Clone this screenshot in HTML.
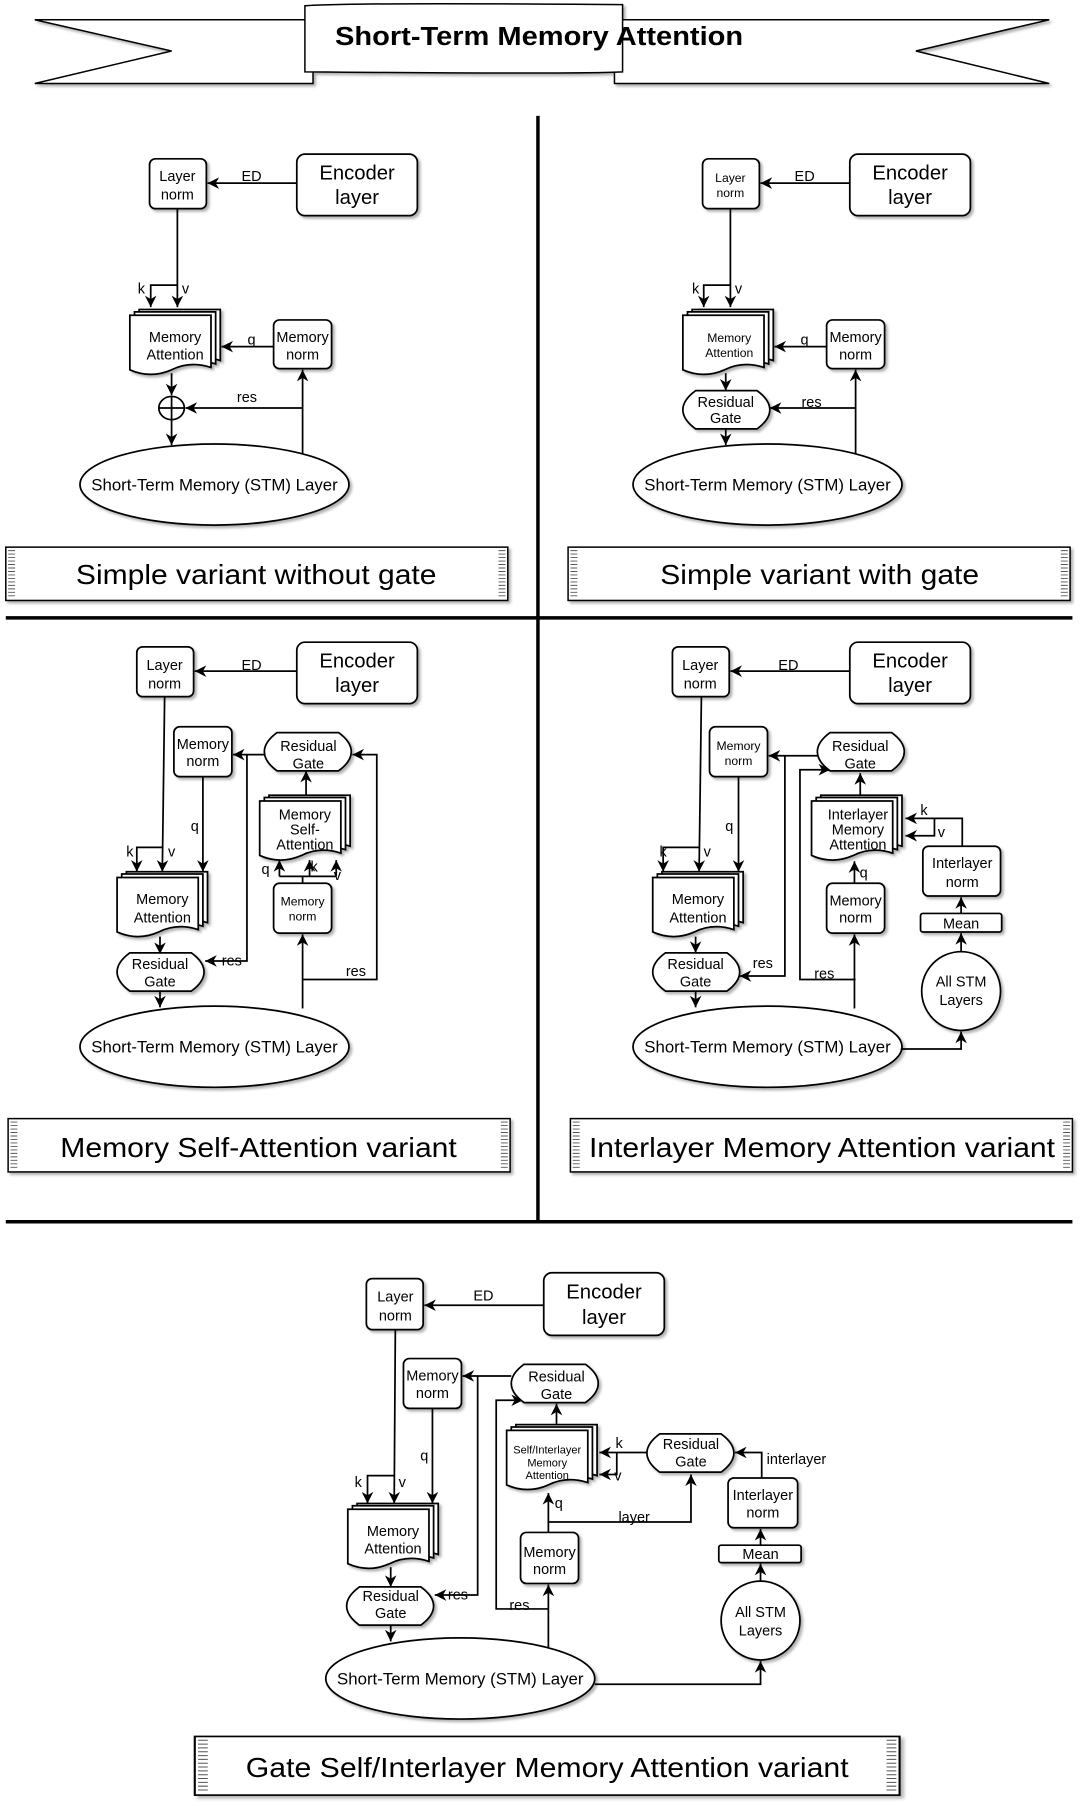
<!DOCTYPE html>
<html><head><meta charset="utf-8"><style>
html,body{margin:0;padding:0;background:#fff}
svg{display:block}
text{font-family:"Liberation Sans",Arial,sans-serif;fill:#000}
</style></head><body>
<svg width="1084" height="1806" viewBox="0 0 935 1558" preserveAspectRatio="none" xmlns="http://www.w3.org/2000/svg">
<defs>
<marker id="a" markerUnits="userSpaceOnUse" markerWidth="11" markerHeight="11" refX="10" refY="5" orient="auto"><path d="M0,0 L10,5 L0,10 L3,5 Z" fill="#000"/></marker>
<filter id="sh" x="-10%" y="-10%" width="130%" height="140%"><feDropShadow dx="2" dy="2" stdDeviation="1.2" flood-color="#000" flood-opacity="0.3"/></filter>
<g id="doc" filter="url(#sh)" stroke="#000" stroke-width="1.5" fill="#fff">
<path d="M8,0 H78 V44 Q60,38 44,46 Q26,54 8,46 Z"/>
<path d="M4,2 H74 V47 Q56,41 40,49 Q22,57 4,49 Z"/>
<path d="M0,5 H70 V50 Q52,44 36,52 Q18,60 0,52 Z"/>
</g>
<g id="gate" filter="url(#sh)"><path d="M11,0 H64 Q75,8 75,16.5 Q75,25 64,33 H11 Q0,25 0,16.5 Q0,8 11,0 Z" fill="#fff" stroke="#000" stroke-width="1.5"/></g>
<g id="cap"><rect x="0" y="0" width="433" height="46" fill="#fff" stroke="#000" stroke-width="1.3" filter="url(#sh)"/>
<path d="M2,3 H8 M2,6 H8 M2,9 H8 M2,12 H8 M2,15 H8 M2,18 H8 M2,21 H8 M2,24 H8 M2,27 H8 M2,30 H8 M2,33 H8 M2,36 H8 M2,39 H8 M2,42 H8 M425,3 H431 M425,6 H431 M425,9 H431 M425,12 H431 M425,15 H431 M425,18 H431 M425,21 H431 M425,24 H431 M425,27 H431 M425,30 H431 M425,33 H431 M425,36 H431 M425,39 H431 M425,42 H431" stroke="#555" stroke-width="0.8"/></g>
</defs>

<!-- Title banner -->
<g stroke="#000" stroke-width="1.3" fill="#fff" filter="url(#sh)">
<polygon points="30,17 270,17 270,72 30,72 148,44"/>
<polygon points="905,17 530,17 530,72 905,72 790,44"/>
<path d="M263,5 Q300,2 537,4 V62 Q500,64 263,62 Z"/>
</g>
<text x="465" y="39" font-size="22" font-weight="bold" text-anchor="middle" textLength="352" lengthAdjust="spacingAndGlyphs">Short-Term Memory Attention</text>

<!-- dividers -->
<g stroke="#000" stroke-width="3">
<line x1="464" y1="100" x2="464" y2="1054"/>
<line x1="5" y1="533" x2="925" y2="533"/>
<line x1="5" y1="1054" x2="925" y2="1054"/>
</g>

<g stroke="#000" stroke-width="1.5" fill="#fff">
<!-- ===== Panel 1 ===== -->
<rect x="129" y="137" width="49" height="43" rx="5" filter="url(#sh)"/>
<rect x="256" y="133" width="104" height="53" rx="7" filter="url(#sh)"/>
<rect x="236" y="276" width="50" height="42" rx="5" filter="url(#sh)"/>
<ellipse cx="185" cy="418" rx="116" ry="35" filter="url(#sh)"/>
<ellipse cx="148" cy="352" rx="11" ry="10"/>
<g fill="none">
<path d="M256,158 H179" marker-end="url(#a)"/>
<path d="M153,180 V265" marker-end="url(#a)"/>
<path d="M153,246 H130 V265" marker-end="url(#a)"/>
<path d="M236,299 H191" marker-end="url(#a)"/>
<path d="M148,322 V341" marker-end="url(#a)"/>
<path d="M148,362 V384" marker-end="url(#a)"/>
<path d="M261,392 V319" marker-end="url(#a)"/>
<path d="M261,352 H160" marker-end="url(#a)"/>
<path d="M137,352 H159 M148,342 V362"/>
</g>

<!-- ===== Panel 2 ===== -->
<rect x="606" y="137" width="49" height="43" rx="5" filter="url(#sh)"/>
<rect x="733" y="133" width="104" height="53" rx="7" filter="url(#sh)"/>
<rect x="713" y="276" width="50" height="42" rx="5" filter="url(#sh)"/>
<ellipse cx="662" cy="418" rx="116" ry="35" filter="url(#sh)"/>
<g fill="none">
<path d="M733,158 H656" marker-end="url(#a)"/>
<path d="M630,180 V265" marker-end="url(#a)"/>
<path d="M630,246 H607 V265" marker-end="url(#a)"/>
<path d="M713,299 H668" marker-end="url(#a)"/>
<path d="M626,322 V337" marker-end="url(#a)"/>
<path d="M626,370 V384" marker-end="url(#a)"/>
<path d="M738,392 V319" marker-end="url(#a)"/>
<path d="M738,352 H664" marker-end="url(#a)"/>
</g>

<!-- ===== Panel 3 ===== -->
<rect x="118" y="558" width="49" height="43" rx="5" filter="url(#sh)"/>
<rect x="256" y="554" width="104" height="53" rx="7" filter="url(#sh)"/>
<rect x="150" y="627" width="50" height="43" rx="5" filter="url(#sh)"/>
<rect x="236" y="762" width="50" height="43" rx="5" filter="url(#sh)"/>
<ellipse cx="185" cy="903" rx="116" ry="35" filter="url(#sh)"/>
<g fill="none">
<path d="M256,579 H168" marker-end="url(#a)"/>
<path d="M142,601 L140,752" marker-end="url(#a)"/>
<path d="M140,731 H118 V752" marker-end="url(#a)"/>
<path d="M175,670 V752" marker-end="url(#a)"/>
<path d="M138,808 V823" marker-end="url(#a)"/>
<path d="M138,855 V869" marker-end="url(#a)"/>
<path d="M228,651 H201" marker-end="url(#a)"/>
<path d="M213,651 V829 H177" marker-end="url(#a)"/>
<path d="M264,686 V665" marker-end="url(#a)"/>
<path d="M261,762 V756 M241,756 H290"/>
<path d="M241,756 V742" marker-end="url(#a)"/>
<path d="M267,756 V742" marker-end="url(#a)"/>
<path d="M290,756 V742" marker-end="url(#a)"/>
<path d="M261,870 V806" marker-end="url(#a)"/>
<path d="M261,845 H325 V651 H304" marker-end="url(#a)"/>
</g>

<!-- ===== Panel 4 ===== -->
<rect x="580" y="558" width="49" height="43" rx="5" filter="url(#sh)"/>
<rect x="733" y="554" width="104" height="53" rx="7" filter="url(#sh)"/>
<rect x="612" y="627" width="50" height="43" rx="5" filter="url(#sh)"/>
<rect x="713" y="762" width="50" height="43" rx="5" filter="url(#sh)"/>
<rect x="796" y="730" width="67" height="43" rx="5" filter="url(#sh)"/>
<rect x="794" y="788" width="70" height="16" rx="2" filter="url(#sh)"/>
<circle cx="829" cy="855" r="34" filter="url(#sh)"/>
<ellipse cx="662" cy="903" rx="116" ry="35" filter="url(#sh)"/>
<g fill="none">
<path d="M733,579 H630" marker-end="url(#a)"/>
<path d="M605,601 L603,752" marker-end="url(#a)"/>
<path d="M603,731 H572 V752" marker-end="url(#a)"/>
<path d="M637,670 V752" marker-end="url(#a)"/>
<path d="M600,808 V822" marker-end="url(#a)"/>
<path d="M600,855 V869" marker-end="url(#a)"/>
<path d="M705,652 H663" marker-end="url(#a)"/>
<path d="M677,652 V842 H638" marker-end="url(#a)"/>
<path d="M738,845 H690 V664 H716" marker-end="url(#a)"/>
<path d="M742,686 V667" marker-end="url(#a)"/>
<path d="M737,762 V743" marker-end="url(#a)"/>
<path d="M737,870 V806" marker-end="url(#a)"/>
<path d="M830,730 V706 H781" marker-end="url(#a)"/>
<path d="M806,706 V721 H781" marker-end="url(#a)"/>
<path d="M829,788 V774" marker-end="url(#a)"/>
<path d="M829,821 V805" marker-end="url(#a)"/>
<path d="M777,905 H829 V890" marker-end="url(#a)"/>
</g>

<!-- ===== Panel 5 ===== -->
<rect x="316" y="1103" width="49" height="44" rx="5" filter="url(#sh)"/>
<rect x="469" y="1098" width="104" height="54" rx="7" filter="url(#sh)"/>
<rect x="348" y="1172" width="50" height="43" rx="5" filter="url(#sh)"/>
<rect x="449" y="1322" width="50" height="44" rx="5" filter="url(#sh)"/>
<rect x="628" y="1275" width="60" height="43" rx="5" filter="url(#sh)"/>
<rect x="620" y="1333" width="71" height="15" rx="2" filter="url(#sh)"/>
<circle cx="656" cy="1398" r="34" filter="url(#sh)"/>
<ellipse cx="397" cy="1448" rx="116" ry="35" filter="url(#sh)"/>
<g fill="none">
<path d="M469,1126 H366" marker-end="url(#a)"/>
<path d="M341,1147 L340,1297" marker-end="url(#a)"/>
<path d="M340,1273 H317 V1297" marker-end="url(#a)"/>
<path d="M373,1215 V1297" marker-end="url(#a)"/>
<path d="M337,1352 V1369" marker-end="url(#a)"/>
<path d="M337,1401 V1416" marker-end="url(#a)"/>
<path d="M441,1187 H399" marker-end="url(#a)"/>
<path d="M412,1187 V1376 H375" marker-end="url(#a)"/>
<path d="M473,1388 H428 V1208 H451" marker-end="url(#a)"/>
<path d="M480,1229 V1211" marker-end="url(#a)"/>
<path d="M473,1322 V1288" marker-end="url(#a)"/>
<path d="M473,1313 H596 V1272" marker-end="url(#a)"/>
<path d="M473,1422 V1367" marker-end="url(#a)"/>
<path d="M558,1253 H517" marker-end="url(#a)"/>
<path d="M532,1253 V1272 H517" marker-end="url(#a)"/>
<path d="M657,1275 V1253 H634" marker-end="url(#a)"/>
<path d="M656,1333 V1319" marker-end="url(#a)"/>
<path d="M656,1364 V1349" marker-end="url(#a)"/>
<path d="M513,1453 H656 V1433" marker-end="url(#a)"/>
</g>
</g>

<!-- shapes via use -->
<use href="#doc" x="112" y="267"/>
<use href="#doc" x="589" y="267"/>
<use href="#doc" x="101" y="752"/>
<use href="#doc" x="224" y="686"/>
<use href="#doc" x="563" y="752"/>
<use href="#doc" x="700" y="686"/>
<use href="#doc" x="300" y="1297"/>
<use href="#doc" x="437" y="1229"/>
<use href="#gate" x="589" y="337"/>
<use href="#gate" x="101" y="822"/>
<use href="#gate" x="228" y="632"/>
<use href="#gate" x="563" y="822"/>
<use href="#gate" x="705" y="632"/>
<use href="#gate" x="299" y="1369"/>
<use href="#gate" x="441" y="1177"/>
<use href="#gate" x="558" y="1237"/>
<use href="#cap" x="5" y="472"/>
<use href="#cap" x="490" y="472"/>
<use href="#cap" x="7" y="965"/>
<use href="#cap" x="492" y="965"/>
<g transform="translate(168,1498) scale(1.404,1.1)"><use href="#cap"/></g>

<!-- Text -->
<g font-size="12.5" text-anchor="middle">
<!-- P1 -->
<text x="153" y="156">Layer</text><text x="153" y="172">norm</text>
<text x="151" y="295">Memory</text><text x="151" y="310">Attention</text>
<text x="261" y="295">Memory</text><text x="261" y="310">norm</text>
<text x="217" y="156">ED</text><text x="217" y="297">q</text><text x="213" y="347">res</text>
<text x="122" y="253">k</text><text x="160" y="253">v</text>
<!-- P2 -->
<text x="630" y="157" font-size="10.5">Layer</text><text x="630" y="170" font-size="10.5">norm</text>
<text x="629" y="295" font-size="10.5">Memory</text><text x="629" y="308" font-size="10.5">Attention</text>
<text x="738" y="295">Memory</text><text x="738" y="310">norm</text>
<text x="626" y="351">Residual</text><text x="626" y="365">Gate</text>
<text x="694" y="156">ED</text><text x="694" y="297">q</text><text x="700" y="351">res</text>
<text x="600" y="253">k</text><text x="637" y="253">v</text>
<!-- P3 -->
<text x="142" y="578">Layer</text><text x="142" y="594">norm</text>
<text x="175" y="646">Memory</text><text x="175" y="661">norm</text>
<text x="140" y="780">Memory</text><text x="140" y="796">Attention</text>
<text x="138" y="836">Residual</text><text x="138" y="851">Gate</text>
<text x="266" y="648">Residual</text><text x="266" y="663">Gate</text>
<text x="263" y="707">Memory</text><text x="263" y="720">Self-</text><text x="263" y="733">Attention</text>
<text x="261" y="781" font-size="10.5">Memory</text><text x="261" y="794" font-size="10.5">norm</text>
<text x="217" y="578">ED</text><text x="168" y="717">q</text>
<text x="112" y="739">k</text><text x="148" y="739">v</text>
<text x="229" y="754">q</text><text x="271" y="752">k</text><text x="291" y="759">v</text>
<text x="200" y="833">res</text><text x="307" y="842">res</text>
<!-- P4 -->
<text x="604" y="578">Layer</text><text x="604" y="594">norm</text>
<text x="637" y="647" font-size="10.5">Memory</text><text x="637" y="660" font-size="10.5">norm</text>
<text x="602" y="780">Memory</text><text x="602" y="796">Attention</text>
<text x="600" y="836">Residual</text><text x="600" y="851">Gate</text>
<text x="742" y="648">Residual</text><text x="742" y="663">Gate</text>
<text x="740" y="707">Interlayer</text><text x="740" y="720">Memory</text><text x="740" y="733">Attention</text>
<text x="738" y="781">Memory</text><text x="738" y="796">norm</text>
<text x="830" y="749">Interlayer</text><text x="830" y="765">norm</text>
<text x="829" y="801">Mean</text>
<text x="829" y="851">All STM</text><text x="829" y="867">Layers</text>
<text x="680" y="578">ED</text><text x="629" y="717">q</text><text x="745" y="757">q</text>
<text x="572" y="739">k</text><text x="610" y="739">v</text>
<text x="797" y="703">k</text><text x="812" y="722">v</text>
<text x="658" y="835">res</text><text x="711" y="844">res</text>
<!-- P5 -->
<text x="341" y="1123">Layer</text><text x="341" y="1139">norm</text>
<text x="373" y="1191">Memory</text><text x="373" y="1206">norm</text>
<text x="339" y="1325">Memory</text><text x="339" y="1340">Attention</text>
<text x="337" y="1381">Residual</text><text x="337" y="1396">Gate</text>
<text x="480" y="1192">Residual</text><text x="480" y="1207">Gate</text>
<text x="472" y="1254" font-size="9.5">Self/Interlayer</text><text x="472" y="1265" font-size="9.5">Memory</text><text x="472" y="1276" font-size="9.5">Attention</text>
<text x="474" y="1343">Memory</text><text x="474" y="1358">norm</text>
<text x="596" y="1250">Residual</text><text x="596" y="1265">Gate</text>
<text x="658" y="1294">Interlayer</text><text x="658" y="1309">norm</text>
<text x="656" y="1345">Mean</text>
<text x="656" y="1395">All STM</text><text x="656" y="1411">Layers</text>
<text x="417" y="1122">ED</text><text x="366" y="1260">q</text><text x="482" y="1301">q</text>
<text x="309" y="1283">k</text><text x="347" y="1283">v</text>
<text x="534" y="1249">k</text><text x="533" y="1277">v</text>
<text x="547" y="1313">layer</text><text x="687" y="1263">interlayer</text>
<text x="395" y="1380">res</text><text x="448" y="1389">res</text>
</g>
<g font-size="14.5" text-anchor="middle">
<text x="185" y="423">Short-Term Memory (STM) Layer</text>
<text x="662" y="423">Short-Term Memory (STM) Layer</text>
<text x="185" y="908">Short-Term Memory (STM) Layer</text>
<text x="662" y="908">Short-Term Memory (STM) Layer</text>
<text x="397" y="1453">Short-Term Memory (STM) Layer</text>
</g>
<g font-size="17.5" text-anchor="middle">
<text x="308" y="155">Encoder</text><text x="308" y="176">layer</text>
<text x="785" y="155">Encoder</text><text x="785" y="176">layer</text>
<text x="308" y="576">Encoder</text><text x="308" y="597">layer</text>
<text x="785" y="576">Encoder</text><text x="785" y="597">layer</text>
<text x="521" y="1120">Encoder</text><text x="521" y="1142">layer</text>
</g>
<g font-size="24" text-anchor="middle" lengthAdjust="spacingAndGlyphs">
<text x="221" y="504" textLength="311" lengthAdjust="spacingAndGlyphs">Simple variant without gate</text>
<text x="707" y="504" textLength="275" lengthAdjust="spacingAndGlyphs">Simple variant with gate</text>
<text x="223" y="998" textLength="342" lengthAdjust="spacingAndGlyphs">Memory Self-Attention variant</text>
<text x="709" y="998" textLength="402" lengthAdjust="spacingAndGlyphs">Interlayer Memory Attention variant</text>
<text x="472" y="1533" textLength="520" lengthAdjust="spacingAndGlyphs">Gate Self/Interlayer Memory Attention variant</text>
</g>
</svg>
</body></html>
